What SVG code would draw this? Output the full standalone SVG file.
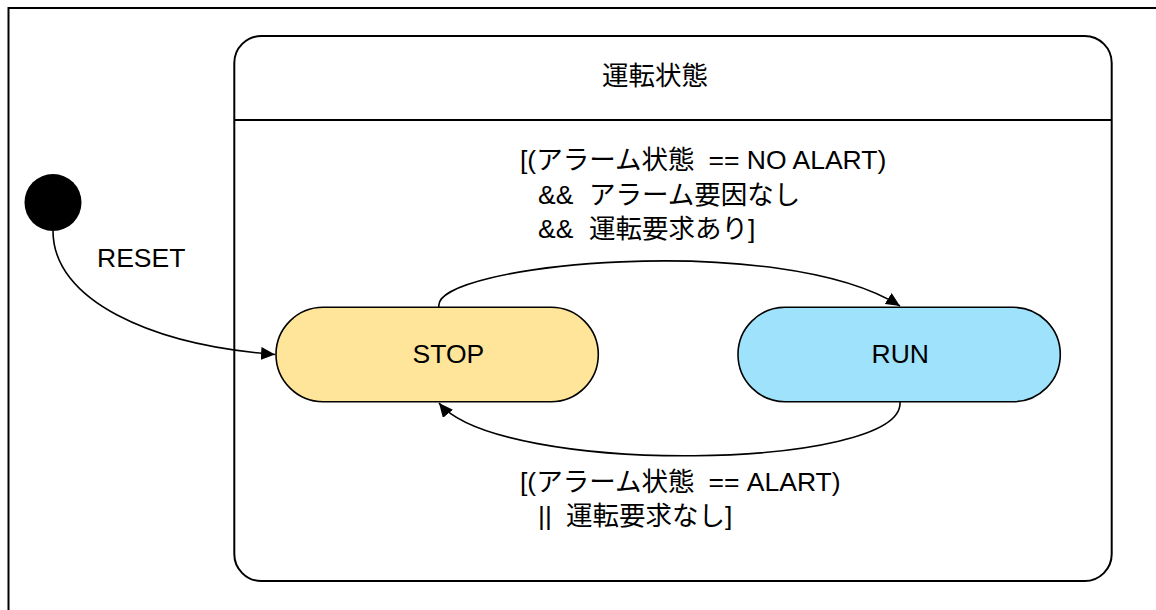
<svg xmlns="http://www.w3.org/2000/svg" width="1156" height="610" viewBox="0 0 1156 610">
  <style>
    text { font-family: "Liberation Sans", "Noto Sans CJK JP", sans-serif; font-size: 26.5px; fill: #000; white-space: pre; }
    .frame { fill: #fff; stroke: #000; stroke-width: 2; }
    .comp { fill: #fff; stroke: #000; stroke-width: 2; }
    .state { stroke: #000; stroke-width: 1.6; }
    .edge { fill: none; stroke: #000; stroke-width: 1.6; }
  </style>
  <defs>
    <marker id="arrow" markerUnits="userSpaceOnUse" markerWidth="15" markerHeight="13" viewBox="0 0 15 13" refX="14" refY="6.5" orient="auto">
      <path d="M0,0 L14,6.5 L0,13 Z" fill="#000"/>
    </marker>
  </defs>
  <rect width="1156" height="610" fill="#fff"/>
  <g id="frame">
    <rect class="frame" x="8.5" y="8" width="1170" height="640"/>
  </g>
  <g id="composite-running">
    <rect class="comp" x="234.3" y="36" width="877.4" height="545" rx="27" ry="27"/>
    <line x1="234.3" y1="120" x2="1111.7" y2="120" stroke="#000" stroke-width="2"/>
    <text x="655" y="85" text-anchor="middle">運転状態</text>
  </g>
  <g id="initial">
    <circle cx="53" cy="202.5" r="28.5" fill="#000"/>
  </g>
  <g id="stop">
    <rect class="state" x="276" y="307.3" width="322.3" height="94.4" rx="47.2" ry="47.2" fill="#FFE599"/>
    <text x="412.5" y="363">STOP</text>
  </g>
  <g id="run">
    <rect class="state" x="738" y="307.3" width="322.3" height="94.4" rx="47.2" ry="47.2" fill="#9FE2FB"/>
    <text x="871.5" y="363">RUN</text>
  </g>
  <g id="connectors">
    <path class="edge" d="M53,231 C53,300 150,345 275,354.5" marker-end="url(#arrow)"/>
    <text x="97" y="267">RESET</text>
    <path class="edge" d="M439,307 C430,264 780,230 900,306" marker-end="url(#arrow)"/>
    <text x="520" y="169">[(アラーム状態  <tspan x="708.5">== NO ALART)</tspan></text>
    <text x="538" y="203.5">&amp;&amp;  <tspan x="589">アラーム要因なし</tspan></text>
    <text x="538" y="238">&amp;&amp;  <tspan x="589">運転要求あり]</tspan></text>
    <path class="edge" d="M900,402 C905,470 500,477 439,403" marker-end="url(#arrow)"/>
    <text x="520" y="491">[(アラーム状態  <tspan x="708.5">== ALART)</tspan></text>
    <text x="538" y="525">||  <tspan x="566">運転要求なし]</tspan></text>
  </g>
</svg>
